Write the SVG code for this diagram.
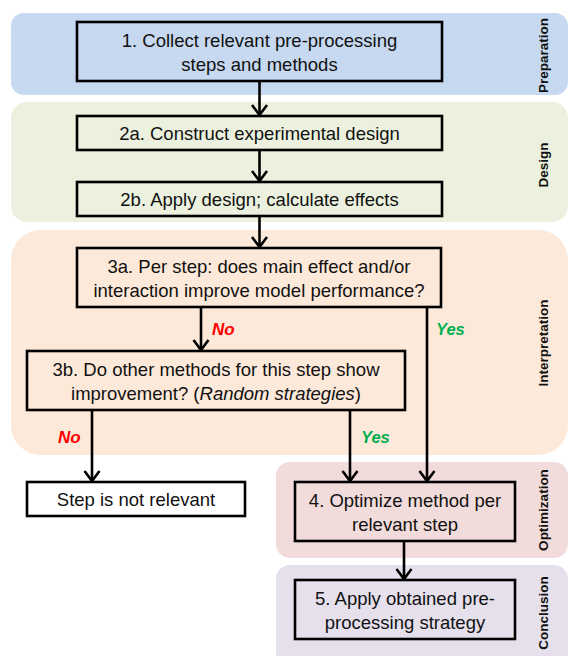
<svg xmlns="http://www.w3.org/2000/svg" width="568" height="656" viewBox="0 0 568 656">
<defs>
<style>
.box{stroke:#000;stroke-width:2.6;}
.t{font-family:"Liberation Sans",Arial,sans-serif;font-size:18.5px;fill:#111;text-anchor:middle;}
.side{font-family:"Liberation Sans",Arial,sans-serif;font-size:13.5px;font-weight:bold;fill:#111;text-anchor:middle;}
.no{font-family:"Liberation Sans",Arial,sans-serif;font-size:17px;font-weight:bold;font-style:italic;fill:#ff0000;}
.yes{font-family:"Liberation Sans",Arial,sans-serif;font-size:16.5px;font-weight:bold;font-style:italic;fill:#00b050;}
.c{stroke:#000;stroke-width:2.6;fill:none;marker-end:url(#arr);}
</style>
<marker id="arr" markerUnits="userSpaceOnUse" markerWidth="22" markerHeight="22" viewBox="-11 -11 22 22" refX="0" refY="0" orient="auto">
<path d="M -10 -7.5 L 0 0 L -10 7.5" fill="none" stroke="#000" stroke-width="2.6"/>
</marker>
</defs>
<rect width="568" height="656" fill="#ffffff"/>
<g id="bands">
<rect id="band-preparation" x="11" y="13" width="557" height="82" rx="13" fill="#c6d9f0"/>
<rect id="band-design" x="11" y="102" width="557" height="120" rx="16" fill="#ebf1de"/>
<rect id="band-interpretation" x="11" y="230" width="557" height="225" rx="30" fill="#fde9d9"/>
<rect id="band-optimization" x="276" y="462" width="292" height="96" rx="14" fill="#f2dcdb"/>
<rect id="band-conclusion" x="276" y="565" width="292" height="105" rx="14" fill="#e5e0ec"/>
<text class="side" transform="translate(548,55.5) rotate(-90)">Preparation</text>
<text class="side" transform="translate(548,165) rotate(-90)">Design</text>
<text class="side" transform="translate(548,343) rotate(-90)">Interpretation</text>
<text class="side" transform="translate(548,510) rotate(-90)">Optimization</text>
<text class="side" transform="translate(548,613) rotate(-90)">Conclusion</text>
</g>
<g id="connectors">
<line class="c" x1="259.5" y1="81" x2="259.5" y2="115"/>
<line class="c" x1="259.5" y1="150" x2="259.5" y2="181"/>
<line class="c" x1="259.5" y1="216" x2="259.5" y2="247"/>
<line class="c" x1="201" y1="307" x2="201" y2="350"/>
<line class="c" x1="427" y1="307" x2="427" y2="481"/>
<line class="c" x1="92" y1="410" x2="92" y2="481"/>
<line class="c" x1="350" y1="410" x2="350" y2="481"/>
<line class="c" x1="404" y1="541" x2="404" y2="579"/>
<text class="no" x="212" y="335">No</text>
<text class="yes" x="436" y="335">Yes</text>
<text class="no" x="58" y="443">No</text>
<text class="yes" x="361" y="443">Yes</text>
</g>
<g id="n1">
<rect class="box" x="77" y="22" width="365" height="59" fill="#c6d9f0"/>
<text class="t" x="259.5" y="46.5">1. Collect relevant pre-processing</text>
<text class="t" x="259.5" y="71">steps and methods</text>
</g>
<g id="n2a">
<rect class="box" x="77" y="116" width="365" height="34" fill="#ebf1de"/>
<text class="t" x="259.5" y="140">2a. Construct experimental design</text>
</g>
<g id="n2b">
<rect class="box" x="77" y="182" width="365" height="34" fill="#ebf1de"/>
<text class="t" x="259.5" y="206">2b. Apply design; calculate effects</text>
</g>
<g id="n3a">
<rect class="box" x="77" y="248" width="364" height="59" fill="#fde9d9"/>
<text class="t" x="259" y="272.5">3a. Per step: does main effect and/or</text>
<text class="t" x="259" y="297">interaction improve model performance?</text>
</g>
<g id="n3b">
<rect class="box" x="27" y="351" width="378" height="59" fill="#fde9d9"/>
<text class="t" x="216" y="375.5">3b. Do other methods for this step show</text>
<text class="t" x="216" y="400">improvement? (<tspan font-style="italic">Random strategies</tspan>)</text>
</g>
<g id="n-not-relevant">
<rect class="box" x="27" y="482" width="218" height="34" fill="#ffffff"/>
<text class="t" x="136" y="506">Step is not relevant</text>
</g>
<g id="n4">
<rect class="box" x="295" y="482" width="220" height="59" fill="#f2dcdb"/>
<text class="t" x="405" y="506.5">4. Optimize method per</text>
<text class="t" x="405" y="531">relevant step</text>
</g>
<g id="n5">
<rect class="box" x="295" y="580" width="220" height="59" fill="#e5e0ec"/>
<text class="t" x="405" y="604.5">5. Apply obtained pre-</text>
<text class="t" x="405" y="629">processing strategy</text>
</g>
</svg>
